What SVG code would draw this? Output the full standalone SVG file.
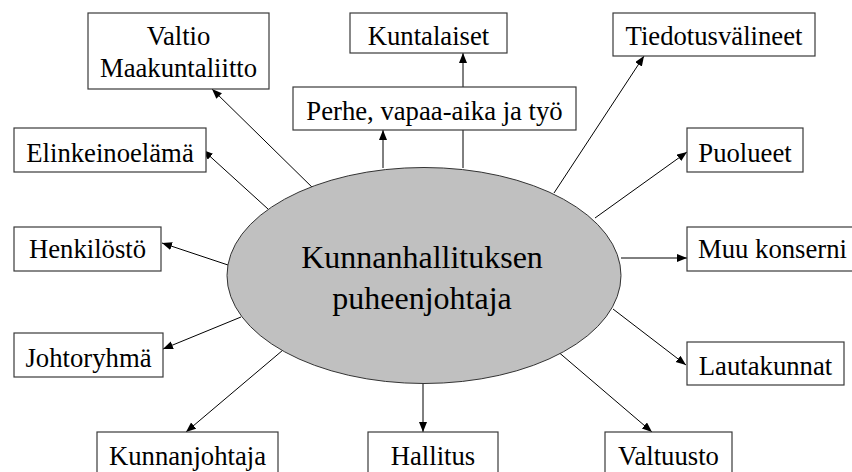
<svg xmlns="http://www.w3.org/2000/svg" width="852" height="472" viewBox="0 0 852 472">
<style>
.box{fill:#fff;stroke:#3a3a3a;stroke-width:1.2}
.t{font-size:26.7px;fill:#000;text-anchor:middle}
.big{font-size:32px}
.c{stroke:#000;stroke-width:1;fill:none;marker-end:url(#ah)}
</style>
<defs>
<marker id="ah" markerUnits="userSpaceOnUse" markerWidth="11" markerHeight="9" refX="10" refY="4" orient="auto">
<path d="M0,0 L10,4 L0,8 z" fill="#000"/>
</marker>
</defs>
<rect width="852" height="472" fill="#fff"/>
<g id="connectors">
<line class="c" x1="318" y1="193" x2="212" y2="89"/>
<line class="c" x1="268" y1="209" x2="203" y2="150"/>
<line class="c" x1="383" y1="168" x2="383" y2="130"/>
<line class="c" x1="463" y1="168" x2="463" y2="53"/>
<line class="c" x1="554" y1="193" x2="644" y2="56"/>
<line class="c" x1="595" y1="218" x2="687" y2="152"/>
<line class="c" x1="621" y1="258" x2="687" y2="258"/>
<line class="c" x1="613" y1="309" x2="686" y2="365"/>
<line class="c" x1="556" y1="350" x2="652" y2="432"/>
<line class="c" x1="423" y1="383" x2="423" y2="432"/>
<line class="c" x1="283" y1="350" x2="186" y2="432"/>
<line class="c" x1="241" y1="317" x2="163" y2="349"/>
<line class="c" x1="228" y1="265" x2="162" y2="243"/>
</g>
<g id="center">
<ellipse cx="424" cy="275.5" rx="197" ry="108" fill="#c0c0c0" stroke="#333" stroke-width="1"/>
<text class="t big" font-family="'Liberation Serif', serif" x="422" y="268">Kunnanhallituksen</text>
<text class="t big" font-family="'Liberation Serif', serif" x="422" y="309">puheenjohtaja</text>
</g>
<g id="valtio">
<rect class="box" x="88" y="13" width="181" height="76"/>
<text class="t" font-family="'Liberation Serif', serif" x="178.5" y="45">Valtio</text>
<text class="t" font-family="'Liberation Serif', serif" x="178.5" y="77">Maakuntaliitto</text>
</g>
<g id="kuntalaiset">
<rect class="box" x="350" y="13" width="157" height="40"/>
<text class="t" font-family="'Liberation Serif', serif" x="428.5" y="45">Kuntalaiset</text>
</g>
<g id="perhe">
<rect class="box" x="293" y="87" width="283" height="43"/>
<text class="t" font-family="'Liberation Serif', serif" x="434.5" y="120">Perhe, vapaa-aika ja työ</text>
</g>
<g id="tiedotusvalineet">
<rect class="box" x="613" y="13" width="202" height="43"/>
<text class="t" font-family="'Liberation Serif', serif" x="714" y="45">Tiedotusvälineet</text>
</g>
<g id="elinkeinoelama">
<rect class="box" x="14" y="128" width="192" height="44"/>
<text class="t" font-family="'Liberation Serif', serif" x="110" y="162">Elinkeinoelämä</text>
</g>
<g id="puolueet">
<rect class="box" x="687" y="128" width="116" height="44"/>
<text class="t" font-family="'Liberation Serif', serif" x="745" y="162">Puolueet</text>
</g>
<g id="henkilosto">
<rect class="box" x="14" y="227" width="147" height="44"/>
<text class="t" font-family="'Liberation Serif', serif" x="87.5" y="258">Henkilöstö</text>
</g>
<g id="muukonserni">
<rect class="box" x="687" y="227" width="180" height="44"/>
<text class="t" font-family="'Liberation Serif', serif" x="698" y="258" style="text-anchor:start">Muu konserni</text>
</g>
<g id="johtoryhma">
<rect class="box" x="14" y="333" width="149" height="44"/>
<text class="t" font-family="'Liberation Serif', serif" x="88.5" y="367">Johtoryhmä</text>
</g>
<g id="lautakunnat">
<rect class="box" x="687" y="342" width="157" height="43"/>
<text class="t" font-family="'Liberation Serif', serif" x="765.5" y="375">Lautakunnat</text>
</g>
<g id="kunnanjohtaja">
<rect class="box" x="97" y="432" width="181" height="50"/>
<text class="t" font-family="'Liberation Serif', serif" x="187.5" y="465">Kunnanjohtaja</text>
</g>
<g id="hallitus">
<rect class="box" x="368" y="432" width="130" height="50"/>
<text class="t" font-family="'Liberation Serif', serif" x="433" y="465">Hallitus</text>
</g>
<g id="valtuusto">
<rect class="box" x="605" y="432" width="127" height="50"/>
<text class="t" font-family="'Liberation Serif', serif" x="668.5" y="465">Valtuusto</text>
</g>
</svg>
